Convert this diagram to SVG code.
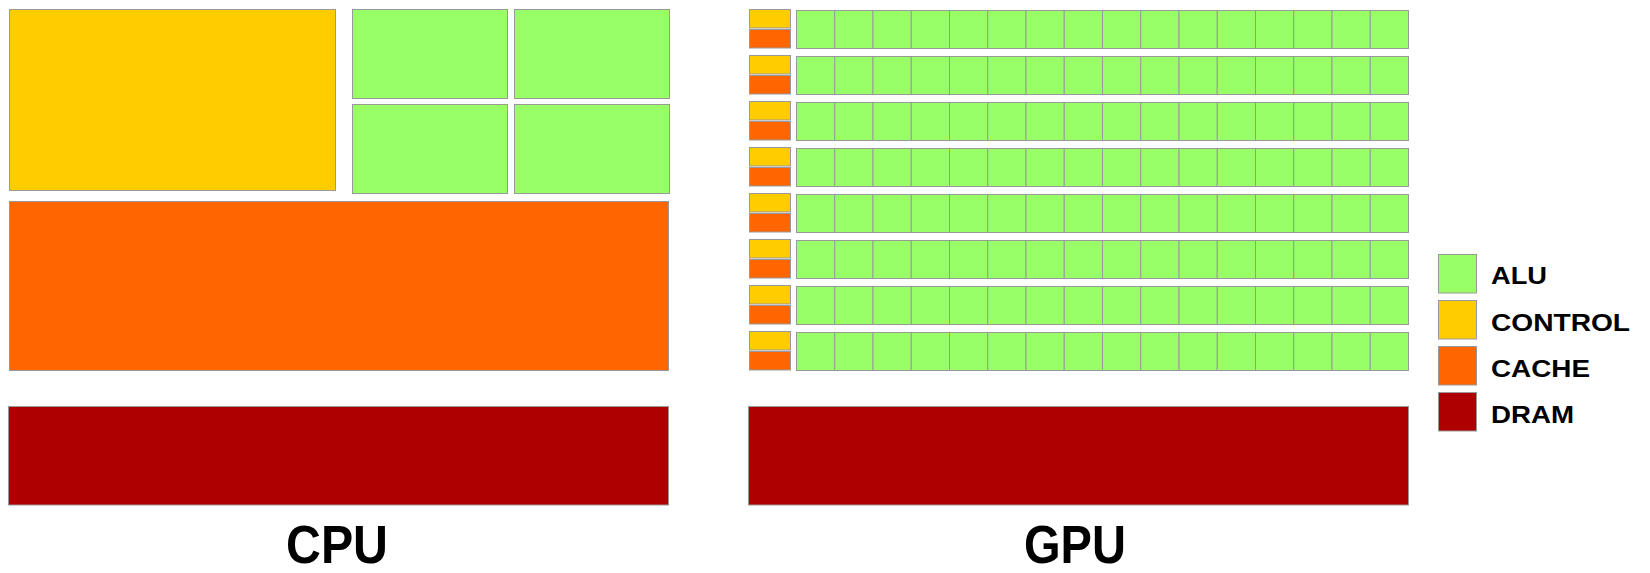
<svg xmlns="http://www.w3.org/2000/svg" xmlns:xlink="http://www.w3.org/1999/xlink" width="1650" height="573" viewBox="0 0 1650 573">
<style>
rect{stroke:#999999;stroke-width:1}
.alu{fill:#99FF66}
.ctl{fill:#FFCC00}
.cache{fill:#FF6600}
.dram{fill:#AF0000}
.leg{font-family:"Liberation Sans",Arial,sans-serif;font-weight:bold;font-size:24px;fill:#000}
.title{font-family:"Liberation Sans",Arial,sans-serif;font-weight:bold;font-size:53px;fill:#000;text-anchor:middle}
</style>
<defs>
<g id="aluRow">
<rect class="alu" x="796.5" y="0" width="38.25" height="38"/>
<rect class="alu" x="834.75" y="0" width="38.25" height="38"/>
<rect class="alu" x="873" y="0" width="38.25" height="38"/>
<rect class="alu" x="911.25" y="0" width="38.25" height="38"/>
<rect class="alu" x="949.5" y="0" width="38.25" height="38"/>
<rect class="alu" x="987.75" y="0" width="38.25" height="38"/>
<rect class="alu" x="1026" y="0" width="38.25" height="38"/>
<rect class="alu" x="1064.25" y="0" width="38.25" height="38"/>
<rect class="alu" x="1102.5" y="0" width="38.25" height="38"/>
<rect class="alu" x="1140.75" y="0" width="38.25" height="38"/>
<rect class="alu" x="1179" y="0" width="38.25" height="38"/>
<rect class="alu" x="1217.25" y="0" width="38.25" height="38"/>
<rect class="alu" x="1255.5" y="0" width="38.25" height="38"/>
<rect class="alu" x="1293.75" y="0" width="38.25" height="38"/>
<rect class="alu" x="1332" y="0" width="38.25" height="38"/>
<rect class="alu" x="1370.25" y="0" width="38.25" height="38"/>
</g>
<g id="ctlPair">
<rect class="ctl" x="749.5" y="0" width="41" height="18.5"/>
<rect class="cache" x="749.5" y="20" width="41" height="18.5"/>
</g>
</defs>

<g id="cpu">
<rect id="cpu-control" class="ctl" x="9.5" y="9.5" width="326" height="181"/>
<rect id="cpu-alu1" class="alu" x="352.5" y="9.5" width="155" height="89"/>
<rect id="cpu-alu2" class="alu" x="514.5" y="9.5" width="155" height="89"/>
<rect id="cpu-alu3" class="alu" x="352.5" y="104.5" width="155" height="89"/>
<rect id="cpu-alu4" class="alu" x="514.5" y="104.5" width="155" height="89"/>
<rect id="cpu-cache" class="cache" x="9.5" y="201.5" width="659" height="169"/>
<rect id="cpu-dram" class="dram" x="8.5" y="406.5" width="660" height="98.5"/>
<text id="cpu-label" class="title" x="337" y="563" textLength="102" lengthAdjust="spacingAndGlyphs">CPU</text>
</g>

<g id="gpu">
<g id="gpu-row1"><use xlink:href="#ctlPair" y="9.5"/><use xlink:href="#aluRow" y="10.5"/></g>
<g id="gpu-row2"><use xlink:href="#ctlPair" y="55.5"/><use xlink:href="#aluRow" y="56.5"/></g>
<g id="gpu-row3"><use xlink:href="#ctlPair" y="101.5"/><use xlink:href="#aluRow" y="102.5"/></g>
<g id="gpu-row4"><use xlink:href="#ctlPair" y="147.5"/><use xlink:href="#aluRow" y="148.5"/></g>
<g id="gpu-row5"><use xlink:href="#ctlPair" y="193.5"/><use xlink:href="#aluRow" y="194.5"/></g>
<g id="gpu-row6"><use xlink:href="#ctlPair" y="239.5"/><use xlink:href="#aluRow" y="240.5"/></g>
<g id="gpu-row7"><use xlink:href="#ctlPair" y="285.5"/><use xlink:href="#aluRow" y="286.5"/></g>
<g id="gpu-row8"><use xlink:href="#ctlPair" y="331.5"/><use xlink:href="#aluRow" y="332.5"/></g>
<rect id="gpu-dram" class="dram" x="748.5" y="406.5" width="660" height="98.5"/>
<text id="gpu-label" class="title" x="1075" y="563" textLength="102" lengthAdjust="spacingAndGlyphs">GPU</text>
</g>

<g id="legend">
<g id="legend-alu"><rect class="alu" x="1438.5" y="254.5" width="38" height="38.5"/><text class="leg" x="1491" y="284" textLength="56" lengthAdjust="spacingAndGlyphs">ALU</text></g>
<g id="legend-control"><rect class="ctl" x="1438.5" y="300.5" width="38" height="38.5"/><text class="leg" x="1491" y="330.5" textLength="139" lengthAdjust="spacingAndGlyphs">CONTROL</text></g>
<g id="legend-cache"><rect class="cache" x="1438.5" y="346.5" width="38" height="38.5"/><text class="leg" x="1491" y="376.5" textLength="99" lengthAdjust="spacingAndGlyphs">CACHE</text></g>
<g id="legend-dram"><rect class="dram" x="1438.5" y="392.5" width="38" height="38.5"/><text class="leg" x="1491" y="422.5" textLength="83" lengthAdjust="spacingAndGlyphs">DRAM</text></g>
</g>

<g id="connectors"></g>
</svg>
